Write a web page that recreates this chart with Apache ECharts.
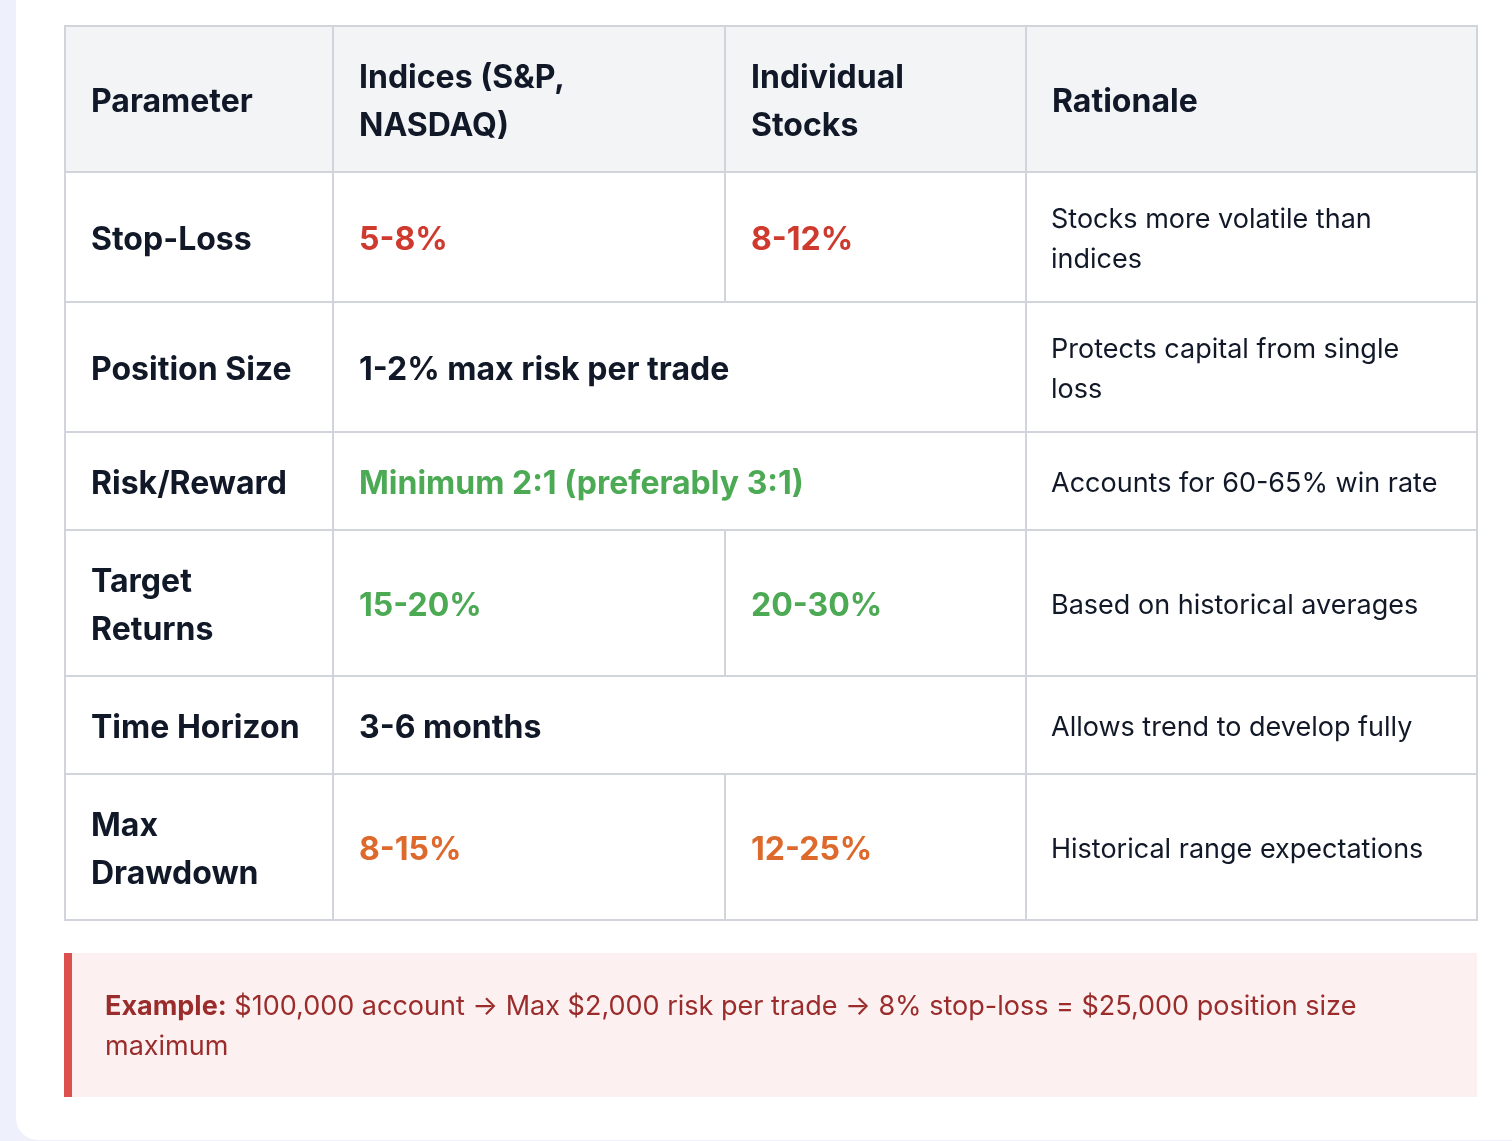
<!DOCTYPE html>
<html><head><meta charset="utf-8">
<script src="https://cdn.jsdelivr.net/npm/echarts@6/dist/echarts.min.js"></script>
<style>html,body{margin:0;padding:0;background:#eef1fb;}#c{width:1512px;height:1141px;}</style>
</head><body><div id="c"></div>
<script>
const headers = ["Parameter", "Indices (S&P,\nNASDAQ)", "Individual\nStocks", "Rationale"];
const params = ["Stop-Loss", "Position Size", "Risk/Reward", "Target\nReturns", "Time Horizon", "Max\nDrawdown"];
const indices = ["5-8%", "1-2% max risk per trade", "Minimum 2:1 (preferably 3:1)", "15-20%", "3-6 months", "8-15%"];
const stocks = ["8-12%", null, null, "20-30%", null, "12-25%"];
const rationale = ["Stocks more volatile than\nindices", "Protects capital from single\nloss", "Accounts for 60-65% win rate", "Based on historical averages", "Allows trend to develop fully", "Historical range expectations"];
const valueColors = ["#cf3a2e", "#111827", "#4ca954", "#4ca954", "#111827", "#dd6a2c"];
const noteBold = "Example:";
const noteText = " $100,000 account → Max $2,000 risk per trade → 8% stop-loss = $25,000 position size\nmaximum";

const colX = [65, 333, 725, 1026, 1477];
const rowY = [26, 172, 302, 432, 530, 676, 774, 920];
const border = "#d1d5db";
const F = "Inter, 'Noto Sans', sans-serif";
const els = [];
els.push({type:'rect', shape:{x:16,y:-20,width:1600,height:1160,r:22}, style:{fill:'#ffffff'}});
function cell(x0,x1,y0,y1,bg){
  els.push({type:'rect', shape:{x:x0,y:y0,width:x1-x0,height:y1-y0}, style:{fill:bg,stroke:border,lineWidth:2}});
}
function txt(x,yc,t,color,weight,size,lh){
  els.push({type:'text', x:x, y:yc, style:{text:t, fill:color, font:weight+' '+size+'px '+F, lineHeight:lh, verticalAlign:'middle', align:'left'}});
}
for(let c=0;c<4;c++){
  cell(colX[c],colX[c+1],rowY[0],rowY[1],'#f3f4f6');
  txt(colX[c]+26,(rowY[0]+rowY[1])/2+3,headers[c],'#111827','bold',32,48);
}
for(let r=0;r<params.length;r++){
  const y0=rowY[r+1], y1=rowY[r+2], yc=(y0+y1)/2+3;
  cell(colX[0],colX[1],y0,y1,'#fff');
  txt(colX[0]+26,yc,params[r],'#111827','bold',32,48);
  if(stocks[r]===null){
    cell(colX[1],colX[3],y0,y1,'#fff');
    txt(colX[1]+26,yc,indices[r],valueColors[r],'bold',32,48);
  } else {
    cell(colX[1],colX[2],y0,y1,'#fff');
    cell(colX[2],colX[3],y0,y1,'#fff');
    txt(colX[1]+26,yc,indices[r],valueColors[r],'bold',32,48);
    txt(colX[2]+26,yc,stocks[r],valueColors[r],'bold',32,48);
  }
  cell(colX[3],colX[4],y0,y1,'#fff');
  txt(colX[3]+25,yc,rationale[r],'#111827','normal',27,40);
}
els.push({type:'rect', shape:{x:64,y:953,width:1413,height:144}, style:{fill:'#fcf0f0'}});
els.push({type:'rect', shape:{x:64,y:953,width:8,height:144}, style:{fill:'#dc514d'}});
els.push({type:'text', x:105, y:1027, style:{
  text:'{b|'+noteBold+'}{n|'+noteText.split('\n')[0]+'}\n{n|'+noteText.split('\n')[1]+'}',
  verticalAlign:'middle', lineHeight:40,
  rich:{b:{font:'bold 27px '+F, fill:'#9b2c2c', lineHeight:40}, n:{font:'normal 27px '+F, fill:'#9b2c2c', lineHeight:40}}
}});
const chart = echarts.init(document.getElementById('c'));
chart.setOption({animation:false, graphic:{elements:els}});
</script></body></html>
